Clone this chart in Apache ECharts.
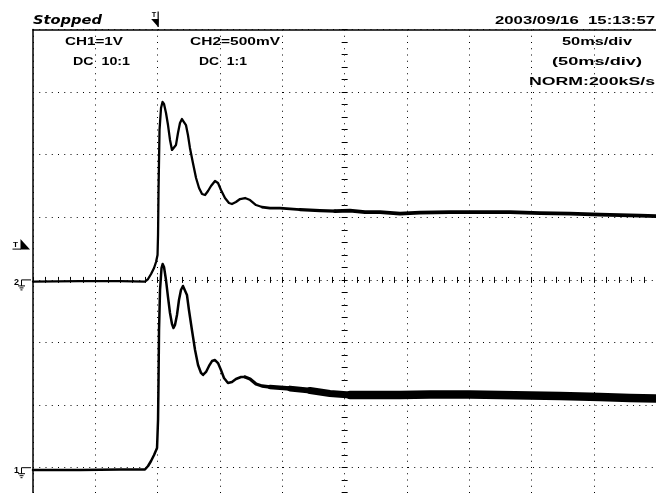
<!DOCTYPE html>
<html>
<head>
<meta charset="utf-8">
<script src="https://cdn.jsdelivr.net/npm/echarts@6/dist/echarts.min.js"></script>
<style>
  html, body { margin: 0; padding: 0; background: #fff; }
  #scope { width: 656px; height: 493px; }
</style>
</head>
<body>
<div id="scope"></div>
<script>
// ---- Acquisition settings ----
const TIME_PER_DIV = 50;          // ms / div
const TIME_MIN = -100;            // ms (trigger at 0)
const TIME_MAX = 400;
const DIV_HALF = 4;               // vertical divisions above/below centre
const CH1_VOLTS_PER_DIV = 1;
const CH1_OFFSET_DIV = -3;
const CH2_VOLTS_PER_DIV = 0.5;
const CH2_OFFSET_DIV = 0;
const TRIGGER_LEVEL_DIV = 0.5;    // on CH2

// ---- Header texts ----
const statusText = 'Stopped';
const dateText = '2003/09/16  15:13:57';
const ch1Texts = ['CH1=1V', 'DC  10:1'];
const ch2Texts = ['CH2=500mV', 'DC  1:1'];
const timebaseTexts = ['50ms/div', '(50ms/div)', 'NORM:200kS/s'];

// ---- CH1 trace (ms, V) ----
const ch1Time = [-100, -62.3, -30.2, -10.2, -7.7, -5.3, -2.9, -0.5, 0.3, 0.7, 1.1, 1.9, 3.1, 4.0, 5.1, 6.7, 8.3, 9.9, 11.5, 12.7, 13.9, 15.5, 17.1, 18.7, 20.3, 21.9, 23.5, 25.1, 27.5, 30.0, 32.4, 34.8, 36.4, 38.8, 41.2, 43.6, 46.0, 48.4, 50.8, 53.2, 56.4, 59.6, 62.8, 66.9, 70.1, 74.1, 78.9, 83.7, 90.1, 98.1, 106.2, 114.2, 122.2, 138.2, 154.3, 178.4, 194.4, 218.5, 250.6, 274.6, 298.7, 322.8, 354.8, 378.9, 400];
const ch1Volt = [-0.037, -0.037, -0.029, -0.029, 0.027, 0.107, 0.203, 0.315, 0.762, 1.401, 2.200, 2.839, 3.190, 3.254, 3.206, 2.998, 2.726, 2.471, 2.295, 2.231, 2.279, 2.439, 2.679, 2.839, 2.903, 2.887, 2.759, 2.519, 2.200, 1.880, 1.641, 1.513, 1.481, 1.529, 1.625, 1.704, 1.720, 1.672, 1.561, 1.433, 1.353, 1.369, 1.417, 1.449, 1.449, 1.417, 1.337, 1.305, 1.289, 1.277, 1.265, 1.249, 1.233, 1.185, 1.161, 1.161, 1.161, 1.169, 1.169, 1.161, 1.153, 1.145, 1.129, 1.113, 1.105];

// ---- CH2 trace (ms, V) ----
const ch2Time = [-100, -62.3, -30.2, -10.2, -7.7, -5.3, -2.9, -1.3, -0.1, 0.3, 0.7, 1.5, 2.7, 3.9, 5.1, 6.7, 8.3, 9.9, 11.5, 13.1, 14.7, 16.3, 17.9, 19.5, 21.1, 22.7, 24.3, 25.9, 28.3, 30.8, 33.2, 35.6, 38.0, 40.4, 42.8, 46.0, 48.4, 50.8, 54.0, 57.2, 59.6, 62.8, 66.1, 70.1, 74.1, 78.9, 83.7, 90.1, 98.1, 106.2, 114.2, 122.2, 130.2, 142.3, 154.3, 166.3, 178.4, 194.4, 210.4, 234.5, 258.6, 282.6, 306.7, 330.8, 354.8, 370.9, 386.9, 400];
const ch2Volt = [-0.013, -0.009, -0.009, -0.013, 0.007, 0.047, 0.095, 0.143, 0.199, 0.359, 0.718, 1.197, 1.373, 1.421, 1.405, 1.333, 1.237, 1.118, 1.038, 1.030, 1.078, 1.173, 1.253, 1.285, 1.285, 1.237, 1.157, 1.054, 0.934, 0.814, 0.734, 0.686, 0.678, 0.710, 0.750, 0.790, 0.774, 0.718, 0.654, 0.614, 0.606, 0.622, 0.646, 0.654, 0.638, 0.598, 0.582, 0.574, 0.574, 0.568, 0.562, 0.558, 0.554, 0.550, 0.554, 0.542, 0.542, 0.530, 0.538, 0.542, 0.542, 0.542, 0.534, 0.530, 0.522, 0.518, 0.514, 0.510];

// Noise band growth: [from ms, stroke width px] for each channel
const ch1Band = [[TIME_MIN, 2.5], [70.1, 3.4], [90.1, 4.6], [106.2, 5.8], [122.2, 7], [154.3, 8.4]];
const ch2Band = [[TIME_MIN, 2.3], [83.7, 2.8], [114.2, 3.3], [142.3, 3.8]];

// Convert a channel's samples into screen divisions
function toDivPoints(times, volts, voltsPerDiv, offsetDiv) {
  return times.map((t, i) => [t, volts[i] / voltsPerDiv + offsetDiv]);
}
const ch1Points = toDivPoints(ch1Time, ch1Volt, CH1_VOLTS_PER_DIV, CH1_OFFSET_DIV);
const ch2Points = toDivPoints(ch2Time, ch2Volt, CH2_VOLTS_PER_DIV, CH2_OFFSET_DIV);
const between = (pts, a, b) => pts.filter(p => p[0] >= a && p[0] <= b);

const INK = '#000';
const dotted = { color: INK, width: 1, type: [1, 5.25] };
const hidden = { show: false };
const GRID = { left: 33, top: 29.5, width: 623.3, height: 500.8 };

function traceSeries(data, width) {
  return {
    type: 'line', data, xAxisIndex: 0, yAxisIndex: 0,
    symbol: 'none', showSymbol: false, silent: true,
    lineStyle: { color: INK, width, cap: 'round', join: 'round' }
  };
}
function channelSeries(points, band) {
  return band.map((stage, i) => {
    const end = i + 1 < band.length ? band[i + 1][0] : TIME_MAX;
    return traceSeries(between(points, stage[0], end), stage[1]);
  });
}

const chart = echarts.init(document.getElementById('scope'), null, { renderer: 'canvas' });

chart.setOption({
  animation: false,
  backgroundColor: '#fff',
  grid: Object.assign({ outerBoundsMode: 'none', containLabel: false }, GRID),
  xAxis: [
    { // time divisions
      type: 'value', min: TIME_MIN, max: TIME_MAX, interval: TIME_PER_DIV,
      axisLine: { show: false, onZero: false }, axisTick: hidden, axisLabel: hidden,
      splitLine: { show: true, lineStyle: dotted }
    },
    { // top frame edge
      type: 'value', position: 'top', min: TIME_MIN, max: TIME_MAX,
      axisLine: { show: true, onZero: false, lineStyle: { color: INK, width: 1.5 } },
      axisTick: hidden, axisLabel: hidden, splitLine: hidden
    },
    { // centre scale, ticks above
      type: 'value', position: 'bottom', min: TIME_MIN, max: TIME_MAX, interval: TIME_PER_DIV / 5,
      axisLine: { show: false, onZero: true, onZeroAxisIndex: 0 },
      axisTick: { show: true, inside: true, length: 3, lineStyle: { color: INK, width: 1 } },
      axisLabel: hidden, splitLine: hidden
    },
    { // centre scale, ticks below
      type: 'value', position: 'bottom', min: TIME_MIN, max: TIME_MAX, interval: TIME_PER_DIV / 5,
      axisLine: { show: false, onZero: true, onZeroAxisIndex: 0 },
      axisTick: { show: true, inside: false, length: 3, lineStyle: { color: INK, width: 1 } },
      axisLabel: hidden, splitLine: hidden
    }
  ],
  yAxis: [
    { // vertical divisions + left frame edge
      type: 'value', min: -DIV_HALF, max: DIV_HALF, interval: 1,
      axisLine: { show: true, onZero: false, lineStyle: { color: INK, width: 1.5 } },
      axisTick: hidden, axisLabel: hidden,
      splitLine: { show: true, lineStyle: dotted }
    },
    { // centre scale, ticks right
      type: 'value', position: 'left', offset: -GRID.width / 2, min: -DIV_HALF, max: DIV_HALF, interval: 0.2,
      axisLine: { show: false, onZero: false },
      axisTick: { show: true, inside: true, length: 3, lineStyle: { color: INK, width: 1 } },
      axisLabel: hidden, splitLine: hidden
    },
    { // centre scale, ticks left
      type: 'value', position: 'left', offset: -GRID.width / 2, min: -DIV_HALF, max: DIV_HALF, interval: 0.2,
      axisLine: { show: false, onZero: false },
      axisTick: { show: true, inside: false, length: 3, lineStyle: { color: INK, width: 1 } },
      axisLabel: hidden, splitLine: hidden
    }
  ],
  series: channelSeries(ch1Points, ch1Band).concat(channelSeries(ch2Points, ch2Band))
});

// ---- Annotations: header texts, trigger and ground markers ----
const measureCtx = document.createElement('canvas').getContext('2d');
const FONT = 'bold 11px "Liberation Sans"';
function fittedText(str, left, cy, width, font) {
  font = font || FONT;
  measureCtx.font = font;
  const w = measureCtx.measureText(str).width;
  return {
    type: 'text', x: left, y: cy, scaleX: width / w, z: 100, silent: true,
    style: {
      text: str, font, fill: INK,
      align: 'left', verticalAlign: 'middle',
      textAlign: 'left', textVerticalAlign: 'middle'
    }
  };
}
function seg(x1, y1, x2, y2, w) {
  return { type: 'line', z: 100, silent: true, shape: { x1, y1, x2, y2 }, style: { stroke: INK, lineWidth: w || 1 } };
}
function groundMarker(label, gy) {
  return [
    fittedText(label, 14, gy + 3, 5, 'bold 9px "Liberation Sans"'),
    seg(21.5, gy, 31, gy, 1),
    seg(21.5, gy, 21.5, gy + 6, 1),
    seg(18, gy + 6, 25, gy + 6, 1),
    seg(19.5, gy + 8, 23.5, gy + 8, 1),
    seg(20.5, gy + 10, 22.5, gy + 10, 1)
  ];
}

const trigX = chart.convertToPixel({ xAxisIndex: 0 }, 0);
const trigY = chart.convertToPixel({ yAxisIndex: 0 }, TRIGGER_LEVEL_DIV + CH2_OFFSET_DIV);
const g1 = chart.convertToPixel({ yAxisIndex: 0 }, CH1_OFFSET_DIV);
const g2 = chart.convertToPixel({ yAxisIndex: 0 }, CH2_OFFSET_DIV);

const graphics = [
  fittedText(statusText, 33, 20.5, 69, 'italic bold 12px "DejaVu Sans"'),
  fittedText(dateText, 495, 20.5, 160),
  fittedText(ch1Texts[0], 65, 41.5, 58),
  fittedText(ch1Texts[1], 73, 61.5, 57),
  fittedText(ch2Texts[0], 190, 41.5, 90),
  fittedText(ch2Texts[1], 199, 61.5, 48),
  fittedText(timebaseTexts[0], 562, 41.5, 70),
  fittedText(timebaseTexts[1], 552, 62, 90),
  fittedText(timebaseTexts[2], 529, 82, 126),
  // trigger time marker (top)
  fittedText('T', trigX - 6, 15, 4.5, 'bold 8px "Liberation Sans"'),
  seg(trigX + 0.5, 11.5, trigX + 0.5, 27, 1.2),
  { type: 'polygon', z: 100, silent: true,
    shape: { points: [[trigX - 6.5, 19], [trigX + 1, 19], [trigX + 0.5, 27]] },
    style: { fill: INK } },
  // trigger level marker (left)
  fittedText('T', 13, trigY - 4, 5, 'bold 8px "Liberation Sans"'),
  seg(12.5, trigY + 0.5, 21, trigY + 0.5, 1),
  { type: 'polygon', z: 100, silent: true,
    shape: { points: [[20.5, trigY - 9.5], [20.5, trigY + 1], [30, trigY + 1]] },
    style: { fill: INK } }
].concat(groundMarker('2', g2), groundMarker('1', g1));

chart.setOption({ graphic: graphics });
</script>
</body>
</html>
